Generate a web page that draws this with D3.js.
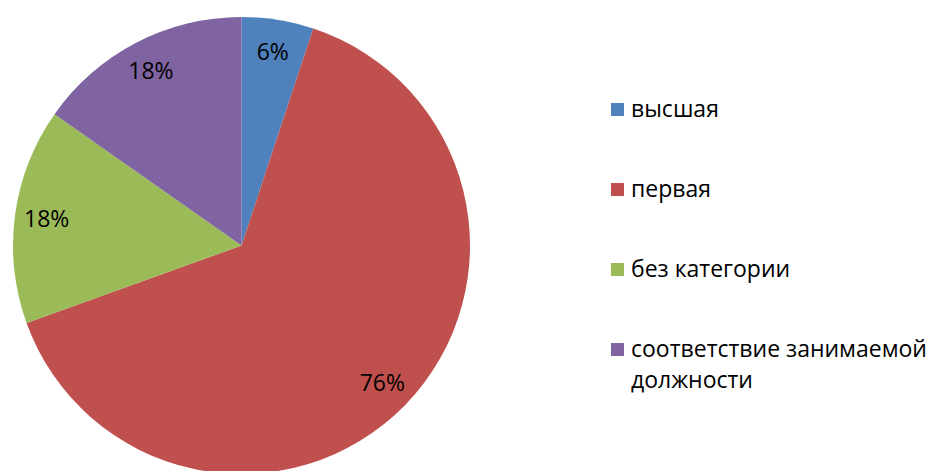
<!DOCTYPE html>
<html>
<head>
<meta charset="utf-8">
<script src="https://cdn.jsdelivr.net/npm/d3@7"></script>
<style>
  body { margin: 0; background: #fff; }
  text { font-family: "Open Sans", "Noto Sans", sans-serif; }
</style>
</head>
<body>
<svg id="chart"></svg>
<script>
// categories and values (labels show the raw value with a % sign)
var categories = ["высшая", "первая", "без категории", "соответствие занимаемой должности"];
var values = [6, 76, 18, 18];
var colors = ["#4F81BD", "#C0504D", "#9BBB59", "#8064A2"];

var width = 930, height = 471;
var cx = 241.5, cy = 245.5, radius = 228.5;

var svg = d3.select("#chart")
    .attr("width", width)
    .attr("height", height);

var data = categories.map(function(c, i) { return {name: c, value: values[i], color: colors[i]}; });

var pie = d3.pie()
    .sort(null)
    .value(d => d.value);

var arc = d3.arc()
    .innerRadius(0)
    .outerRadius(radius);

var labelArc = d3.arc()
    .innerRadius(radius * 0.86)
    .outerRadius(radius * 0.86);

var g = svg.append("g")
    .attr("transform", "translate(" + cx + "," + cy + ")");

var slices = g.selectAll("g.slice")
    .data(pie(data))
    .enter().append("g")
    .attr("class", "slice");

slices.append("path")
    .attr("d", arc)
    .attr("fill", d => d.data.color);

slices.append("text")
    .attr("transform", function(d) {
      var p = labelArc.centroid(d);
      return "translate(" + p[0] + "," + p[1] + ")";
    })
    .attr("text-anchor", "middle")
    .attr("dy", "0.35em")
    .attr("font-size", 23)
    .attr("fill", "#000")
    .text(d => d.data.value + "%");

// legend
var legendX = 611, legendTop = 117, rowStep = 80, lineStep = 31;
var legend = svg.append("g");

var item = legend.selectAll("g")
    .data(data)
    .enter().append("g")
    .attr("transform", (d, i) => "translate(" + legendX + "," + (legendTop + i * rowStep) + ")");

item.append("rect")
    .attr("x", 0)
    .attr("y", -14)
    .attr("width", 13)
    .attr("height", 13)
    .attr("fill", d => d.color);

var lines = [["высшая"], ["первая"], ["без категории"], ["соответствие занимаемой", "должности"]];

item.append("text")
    .attr("x", 20)
    .attr("y", 0)
    .attr("font-size", 23)
    .attr("fill", "#000")
    .selectAll("tspan")
    .data((d, i) => lines[i])
    .enter().append("tspan")
    .attr("x", 20)
    .attr("dy", (d, j) => j === 0 ? 0 : lineStep)
    .text(d => d);
</script>
</body>
</html>
